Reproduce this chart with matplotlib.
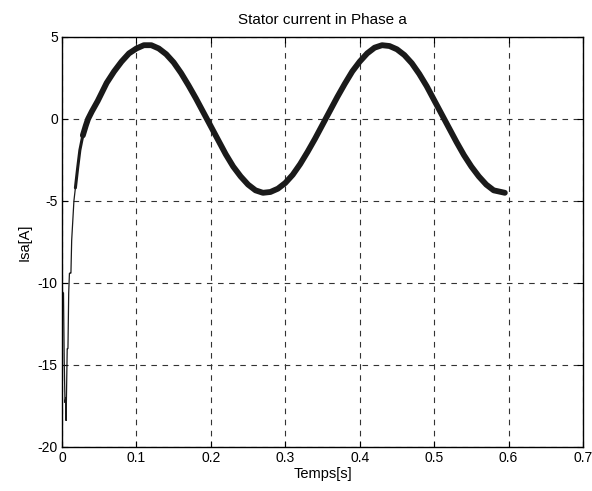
import matplotlib
matplotlib.use("Agg")
import matplotlib.pyplot as plt
import numpy as np

plt.rcParams['font.family'] = ['Liberation Sans', 'DejaVu Sans']

# Start-up transient (thin trace)
t_start = [0.000, 0.0005, 0.001, 0.002, 0.003, 0.004, 0.005, 0.0055, 0.006, 0.007,
           0.008, 0.009, 0.010, 0.011, 0.012, 0.013, 0.016, 0.018, 0.021]
i_start = [-4.0, -10.5, -10.6, -10.6, -14.8, -17.3, -17.0, -18.4, -16.9, -14.0,
           -14.0, -10.6, -9.4, -9.4, -9.4, -7.4, -5.0, -4.2, -3.0]

# Steady-state current (thick noisy trace)
t_steady = [0.018, 0.021, 0.024, 0.028, 0.032, 0.035, 0.040, 0.048, 0.060, 0.070,
            0.080, 0.090, 0.100, 0.110, 0.120, 0.130, 0.140, 0.150, 0.160, 0.170,
            0.180, 0.190, 0.200, 0.210, 0.220, 0.230, 0.240, 0.250, 0.260, 0.270,
            0.280, 0.290, 0.300, 0.310, 0.320, 0.330, 0.340, 0.350, 0.360, 0.370,
            0.380, 0.390, 0.400, 0.410, 0.420, 0.430, 0.440, 0.450, 0.460, 0.470,
            0.480, 0.490, 0.500, 0.510, 0.520, 0.530, 0.540, 0.550, 0.560, 0.570,
            0.580, 0.590, 0.595]
i_steady = [-4.2, -3.0, -1.9, -1.0, -0.4, 0.0, 0.45, 1.1, 2.2, 2.9,
            3.5, 4.0, 4.3, 4.5, 4.5, 4.3, 3.95, 3.45, 2.8, 2.05,
            1.25, 0.4, -0.45, -1.3, -2.15, -2.9, -3.5, -4.0, -4.35, -4.5,
            -4.45, -4.25, -3.9, -3.4, -2.75, -2.0, -1.2, -0.35, 0.5, 1.35,
            2.15, 2.9, 3.5, 4.0, 4.35, 4.5, 4.45, 4.25, 3.9, 3.4,
            2.75, 2.0, 1.15, 0.3, -0.55, -1.4, -2.2, -2.9, -3.5, -4.0,
            -4.35, -4.45, -4.5]

x_ticks = [0, 0.1, 0.2, 0.3, 0.4, 0.5, 0.6, 0.7]
x_labels = ['0', '0.1', '0.2', '0.3', '0.4', '0.5', '0.6', '0.7']
y_ticks = [-20, -15, -10, -5, 0, 5]
y_labels = ['-20', '-15', '-10', '-5', '0', '5']

fig = plt.figure(figsize=(5.92, 4.91), dpi=100)
ax = fig.add_axes([62/592, 44/491, (583-62)/592, (447-37)/491])

ax.plot(t_start, i_start, color='#1a1a1a', lw=0.9, solid_joinstyle='miter')
ax.plot(t_steady[:4], i_steady[:4], color='#1a1a1a', lw=2.2,
        solid_capstyle='round', solid_joinstyle='round')
ax.plot(t_steady[3:], i_steady[3:], color='#1a1a1a', lw=4.2,
        solid_capstyle='round', solid_joinstyle='round')

ax.set_xlim(0, 0.7)
ax.set_ylim(-20, 5)
ax.set_xticks(x_ticks)
ax.set_xticklabels(x_labels)
ax.set_yticks(y_ticks)
ax.set_yticklabels(y_labels)
ax.grid(True, color='#333333', linestyle=(0, (5, 5)), linewidth=0.8)
ax.tick_params(direction='in', top=True, right=True, length=4, labelsize=10, width=0.8, pad=3)
for s in ax.spines.values():
    s.set_linewidth(1.0)

ax.set_title('Stator current in Phase a', fontsize=11, pad=9)
ax.set_xlabel('Temps[s]', fontsize=10.5, labelpad=1)
ax.set_ylabel('Isa[A]', fontsize=10.5, labelpad=4)

fig.savefig('out.png', dpi=100)
